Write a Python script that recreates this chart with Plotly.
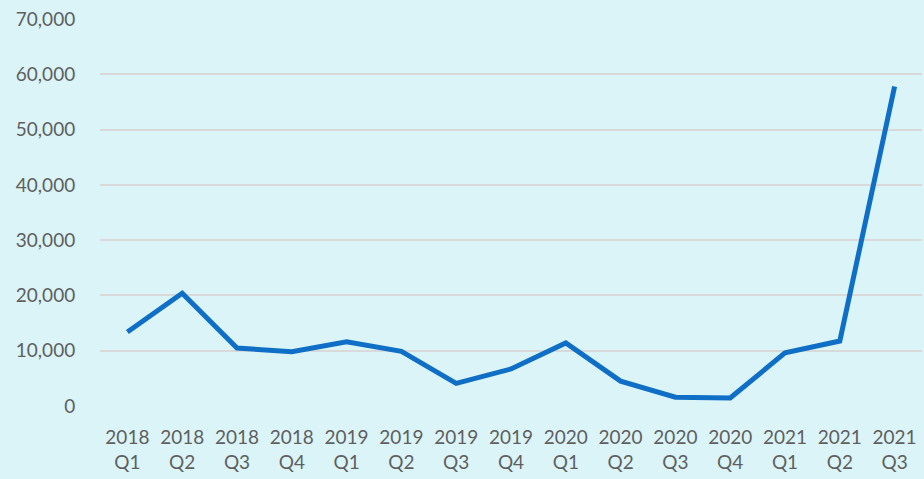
import plotly.graph_objects as go

years = ["2018", "2018", "2018", "2018", "2019", "2019", "2019", "2019",
         "2020", "2020", "2020", "2020", "2021", "2021", "2021"]
quarters = ["Q1", "Q2", "Q3", "Q4", "Q1", "Q2", "Q3", "Q4",
            "Q1", "Q2", "Q3", "Q4", "Q1", "Q2", "Q3"]
values = [13400, 20400, 10500, 9800, 11600, 9900, 4100, 6700,
          11400, 4500, 1600, 1450, 9600, 11750, 57800]
categories = [f"{y}<br>{q}" for y, q in zip(years, quarters)]
y_ticks = [0, 10000, 20000, 30000, 40000, 50000, 60000, 70000]

fig = go.Figure()
fig.add_trace(go.Scatter(
    x=categories, y=values, mode="lines",
    line=dict(color="#0F6FC6", width=5, shape="linear"),
    hoverinfo="x+y",
))

font_family = "Lato, Open Sans, sans-serif"
fig.update_layout(
    width=924, height=479,
    margin=dict(l=100, r=2, t=19, b=73),
    paper_bgcolor="#DBF4F8",
    plot_bgcolor="#DBF4F8",
    showlegend=False,
    font=dict(family=font_family, size=19, color="#5F5F5F"),
    xaxis=dict(
        type="category",
        showgrid=False, zeroline=False, showline=False,
        ticks="outside", ticklen=14, tickcolor="rgba(0,0,0,0)",
        tickfont=dict(size=19, color="#5F5F5F"),
        range=[-0.5, len(categories) - 0.5],
    ),
    yaxis=dict(
        range=[0, 70000],
        tickvals=y_ticks,
        ticktext=[f"{v:,}" for v in y_ticks],
        showgrid=True, gridcolor="#D9D9D9", gridwidth=2,
        zeroline=False, showline=False,
        ticks="outside", ticklen=20, tickcolor="rgba(0,0,0,0)",
        tickfont=dict(size=19, color="#5F5F5F"),
    ),
)

fig.write_html(
    "out.html",
    config={"displayModeBar": False},
    post_script="document.body.style.margin='0';document.body.style.overflow='hidden';",
)
